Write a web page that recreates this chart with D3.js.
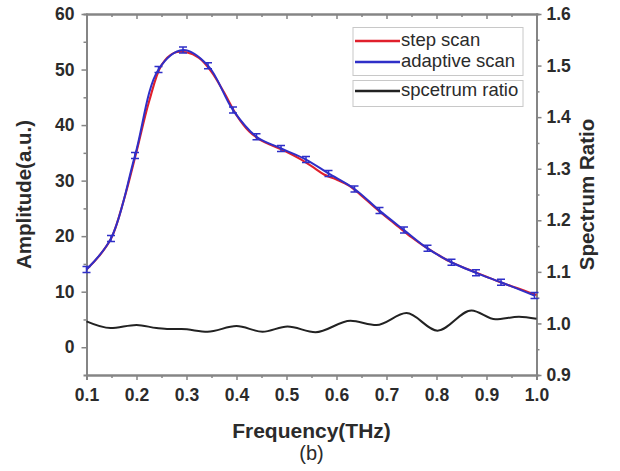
<!DOCTYPE html>
<html>
<head>
<meta charset="utf-8">
<script src="https://cdn.jsdelivr.net/npm/d3@7"></script>
<style>
  body { margin: 0; background: #fff; }
  text { font-family: "Liberation Sans", Arial, sans-serif; }
</style>
</head>
<body>
<div id="chart"></div>
<script>
// adaptive scan samples (blue, with markers)
const adaptiveFreq = [0.1, 0.149, 0.197, 0.244, 0.293, 0.343, 0.393, 0.44, 0.489, 0.539, 0.584, 0.636, 0.686, 0.735, 0.782, 0.83, 0.879, 0.929, 0.996];
const adaptiveAmp = [14, 19.6, 34.5, 50, 53.5, 50.7, 42.7, 37.9, 35.8, 33.8, 31.3, 28.5, 24.6, 21.1, 17.8, 15.3, 13.4, 11.7, 9.3];

// step scan samples (red)
const stepFreq = [0.1, 0.125, 0.15, 0.175, 0.2, 0.225, 0.25, 0.275, 0.3, 0.325, 0.35, 0.375, 0.4, 0.425, 0.45, 0.475, 0.5, 0.525, 0.55, 0.575, 0.6, 0.625, 0.65, 0.675, 0.7, 0.725, 0.75, 0.775, 0.8, 0.825, 0.85, 0.875, 0.9, 0.925, 0.95, 0.975, 1.0];
const stepAmp = [14, 16.4, 19.7, 26.6, 35.2, 44.2, 50.8, 53, 53.1, 52.1, 49.6, 45.9, 41.8, 38.9, 37.2, 36.2, 35.2, 34, 32.6, 31.1, 30.2, 29.1, 27.3, 25.3, 23.4, 21.6, 19.8, 18.2, 16.8, 15.5, 14.5, 13.6, 12.7, 11.8, 11, 10.2, 9.4];

// spectrum ratio (black, right axis)
const ratioFreq = [0.1, 0.148, 0.2, 0.24, 0.265, 0.29, 0.342, 0.4, 0.452, 0.502, 0.558, 0.628, 0.68, 0.74, 0.802, 0.87, 0.918, 0.965, 1.0];
const ratioVal = [1.004, 0.991, 0.997, 0.991, 0.989, 0.989, 0.984, 0.995, 0.984, 0.994, 0.983, 1.005, 0.997, 1.02, 0.986, 1.025, 1.008, 1.013, 1.009];

const xTicks = [0.1, 0.2, 0.3, 0.4, 0.5, 0.6, 0.7, 0.8, 0.9, 1.0];
const xMinor = [0.15, 0.25, 0.35, 0.45, 0.55, 0.65, 0.75, 0.85, 0.95];
const yTicks = [0, 10, 20, 30, 40, 50, 60];
const yMinor = [5, 15, 25, 35, 45, 55];
const rTicks = [0.9, 1.0, 1.1, 1.2, 1.3, 1.4, 1.5, 1.6];
const rMinor = [0.95, 1.05, 1.15, 1.25, 1.35, 1.45, 1.55];

const legendItems = [
    { label: 'step scan', color: '#e0202c' },
    { label: 'adaptive scan', color: '#2f2fc8' },
    { label: 'spcetrum ratio', color: '#222' }
];

const width = 620, height = 471;
const m = { left: 86.5, right: 83.5, top: 14, bottom: 96 };
const axisColor = '#858585';
const textColor = '#2b2b2b';

let svg = d3.select('#chart')
    .append('svg')
    .attr('width', width)
    .attr('height', height);

const x = d3.scaleLinear().domain([0.1, 1.0]).range([m.left, width - m.right]);
const y = d3.scaleLinear().domain([-5, 60]).range([height - m.bottom, m.top]);
const yr = d3.scaleLinear().domain([0.9, 1.6]).range([height - m.bottom, m.top]);

function styleAxis(g) {
    g.select('.domain').attr('stroke', axisColor).attr('stroke-width', 2);
    g.selectAll('.tick line').attr('stroke', axisColor).attr('stroke-width', 1.5);
    g.selectAll('.tick text')
        .attr('fill', textColor)
        .attr('font-size', 17.5)
        .attr('font-weight', 'bold');
}

// minor ticks first, majors on top
svg.append('g')
    .attr('transform', `translate(0,${height - m.bottom})`)
    .call(d3.axisBottom(x).tickValues(xMinor).tickSize(3).tickFormat(''))
    .call(styleAxis);
svg.append('g')
    .attr('transform', `translate(0,${height - m.bottom})`)
    .call(d3.axisBottom(x).tickValues(xTicks).tickSize(5).tickPadding(9).tickFormat(d3.format('.1f')))
    .call(styleAxis);

svg.append('g')
    .attr('transform', `translate(0,${m.top})`)
    .call(d3.axisBottom(x).tickValues(xMinor).tickSize(3).tickFormat(''))
    .call(styleAxis);
svg.append('g')
    .attr('transform', `translate(0,${m.top})`)
    .call(d3.axisBottom(x).tickValues(xTicks).tickSize(5).tickFormat(''))
    .call(styleAxis);

svg.append('g')
    .attr('transform', `translate(${m.left},0)`)
    .call(d3.axisLeft(y).tickValues(yMinor).tickSize(3).tickFormat(''))
    .call(styleAxis);
svg.append('g')
    .attr('transform', `translate(${m.left},0)`)
    .call(d3.axisLeft(y).tickValues(yTicks).tickSize(5).tickPadding(7).tickSizeOuter(0))
    .call(styleAxis);

svg.append('g')
    .attr('transform', `translate(${width - m.right},0)`)
    .call(d3.axisRight(yr).tickValues(rMinor).tickSize(3).tickFormat(''))
    .call(styleAxis);
svg.append('g')
    .attr('transform', `translate(${width - m.right},0)`)
    .call(d3.axisRight(yr).tickValues(rTicks).tickSize(5).tickPadding(5).tickFormat(d3.format('.1f')).tickSizeOuter(0))
    .call(styleAxis);

// curves
const stepLine = d3.line()
    .x((d, i) => x(stepFreq[i]))
    .y(d => y(d))
    .curve(d3.curveCatmullRom);
const adaptiveLine = d3.line()
    .x((d, i) => x(adaptiveFreq[i]))
    .y(d => y(d))
    .curve(d3.curveCatmullRom);
const ratioLine = d3.line()
    .x((d, i) => x(ratioFreq[i]))
    .y(d => yr(d))
    .curve(d3.curveMonotoneX);

svg.append('path')
    .datum(ratioVal)
    .attr('d', ratioLine)
    .attr('fill', 'none')
    .attr('stroke', '#222')
    .attr('stroke-width', 2);

svg.append('path')
    .datum(stepAmp)
    .attr('d', stepLine)
    .attr('fill', 'none')
    .attr('stroke', legendItems[0].color)
    .attr('stroke-width', 2.1);

svg.append('path')
    .datum(adaptiveAmp)
    .attr('d', adaptiveLine)
    .attr('fill', 'none')
    .attr('stroke', legendItems[1].color)
    .attr('stroke-width', 2);

// marker glyphs on adaptive points
let marks = svg.selectAll('.mk')
    .data(adaptiveAmp)
    .enter()
    .append('g')
    .attr('class', 'mk')
    .attr('transform', (d, i) => `translate(${x(adaptiveFreq[i])},${y(d)})`);
marks.append('path')
    .attr('d', 'M-4,-3H4M0,-3V3M-4,3H4')
    .attr('fill', 'none')
    .attr('stroke', legendItems[1].color)
    .attr('stroke-width', 1.5);

// legend boxes
const lx = 353, lw = 170;
svg.append('rect')
    .attr('x', lx).attr('y', 27.5).attr('width', lw).attr('height', 48)
    .attr('fill', '#fff').attr('stroke', '#c8c8c8');
svg.append('rect')
    .attr('x', lx).attr('y', 80.5).attr('width', lw).attr('height', 26)
    .attr('fill', '#fff').attr('stroke', '#c8c8c8');

const legendY = [41, 62, 91];
let leg = svg.selectAll('.leg')
    .data(legendItems)
    .enter()
    .append('g')
    .attr('class', 'leg')
    .attr('transform', (d, i) => `translate(${lx},${legendY[i]})`);
leg.append('line')
    .attr('x1', 2).attr('x2', 47)
    .attr('stroke', d => d.color)
    .attr('stroke-width', 2.4);
leg.append('text')
    .attr('x', 48)
    .attr('y', 5)
    .attr('font-size', 18.5)
    .attr('fill', textColor)
    .text(d => d.label);

// axis titles
svg.append('text')
    .attr('x', (m.left + width - m.right) / 2)
    .attr('y', 438)
    .attr('text-anchor', 'middle')
    .attr('font-size', 21)
    .attr('font-weight', 'bold')
    .attr('fill', textColor)
    .text('Frequency(THz)');
svg.append('text')
    .attr('x', (m.left + width - m.right) / 2)
    .attr('y', 460)
    .attr('text-anchor', 'middle')
    .attr('font-size', 20)
    .attr('fill', textColor)
    .text('(b)');
svg.append('text')
    .attr('transform', `translate(31,${(m.top + height - m.bottom) / 2}) rotate(-90)`)
    .attr('text-anchor', 'middle')
    .attr('font-size', 20.5)
    .attr('font-weight', 'bold')
    .attr('fill', textColor)
    .text('Amplitude(a.u.)');
svg.append('text')
    .attr('transform', `translate(594,${(m.top + height - m.bottom) / 2}) rotate(-90)`)
    .attr('text-anchor', 'middle')
    .attr('font-size', 20.5)
    .attr('font-weight', 'bold')
    .attr('fill', textColor)
    .text('Spectrum Ratio');
</script>
</body>
</html>
